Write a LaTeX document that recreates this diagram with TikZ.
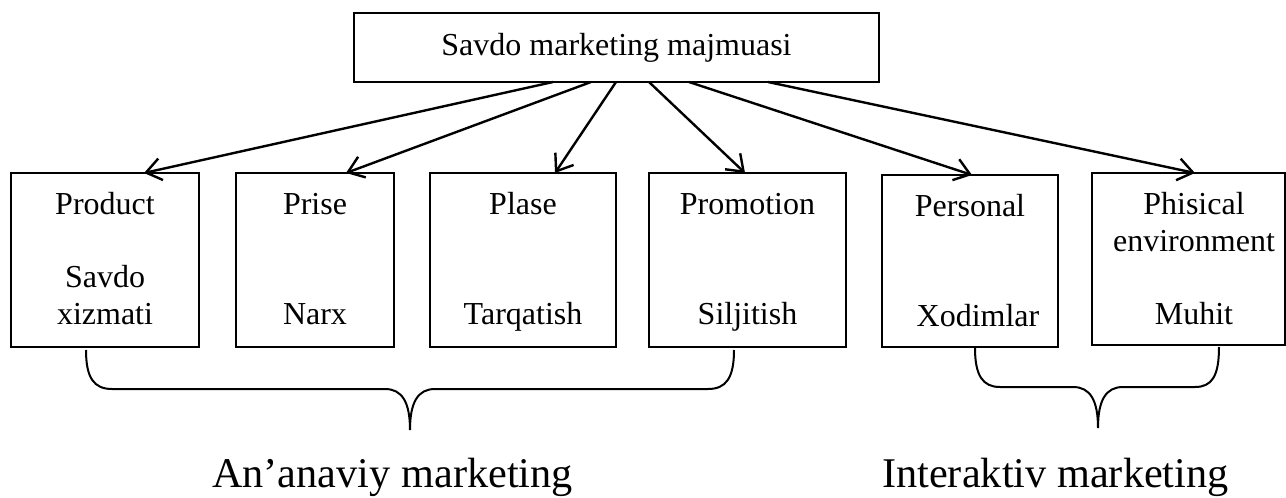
\documentclass[tikz,border=0pt]{standalone}
\usepackage{fontspec}
\setmainfont{Liberation Serif}
\usetikzlibrary{arrows.meta}
\begin{document}
\begin{tikzpicture}[x=1pt,y=-1pt,
  box/.style={draw, line width=1.4pt, inner sep=0pt, outer sep=0pt, anchor=north west},
  txt/.style={font=\fontsize{32}{37}\selectfont, anchor=base, inner sep=0pt},
  big/.style={font=\fontsize{42.3}{48}\selectfont, anchor=base west, inner sep=0pt},
  link/.style={line width=2.4pt, -{Straight Barb[length=15pt,width=22pt]}},
  brace/.style={line width=2pt}
]
\useasboundingbox (0,0) rectangle (1286,498);

% head box
\node[box, minimum width=525pt, minimum height=69pt,
      font=\fontsize{32}{37}\selectfont] (top) at (354,13) {Savdo marketing majmuasi};

% the six element boxes
\node[box, minimum width=188pt, minimum height=174pt] (b1) at (11,173) {};
\node[box, minimum width=158pt, minimum height=174pt] (b2) at (236,173) {};
\node[box, minimum width=186pt, minimum height=174pt] (b3) at (430,173) {};
\node[box, minimum width=197pt, minimum height=174pt] (b4) at (649,173) {};
\node[box, minimum width=176pt, minimum height=172pt] (b5) at (882,175) {};
\node[box, minimum width=193pt, minimum height=172pt] (b6) at (1092,173) {};

% box texts (baselines 41, 78, 115, 151 below the top edge)
\node[txt] (t1a) at ([yshift=-41pt]b1.north) {Product};
\node[txt] (t1b) at ([yshift=-114pt]b1.north) {Savdo};
\node[txt] (t1c) at ([yshift=-151pt]b1.north) {xizmati};
\node[txt] (t2a) at ([yshift=-41pt]b2.north) {Prise};
\node[txt] (t2b) at ([yshift=-151pt]b2.north) {Narx};
\node[txt] (t3a) at ([yshift=-41pt]b3.north) {Plase};
\node[txt] (t3b) at ([yshift=-151pt]b3.north) {Tarqatish};
\node[txt] (t4a) at ([yshift=-41pt]b4.north) {Promotion};
\node[txt] (t4b) at ([yshift=-151pt]b4.north) {Siljitish};
\node[txt] (t5a) at ([yshift=-41pt]b5.north) {Personal};
\node[txt] (t5b) at ([xshift=8pt,yshift=-151pt]b5.north) {Xodimlar};
\node[txt] (t6a) at ([xshift=5.5pt,yshift=-41pt]b6.north) {Phisical};
\node[txt] (t6b) at ([xshift=5.5pt,yshift=-78pt]b6.north) {environment};
\node[txt] (t6c) at ([xshift=5.5pt,yshift=-151pt]b6.north) {Muhit};

% arrows from the head box
\draw[link] ([xshift=199pt]top.south west) -- ([xshift=39pt]b1.north);
\draw[link] ([xshift=237pt]top.south west) -- ([xshift=31pt]b2.north);
\draw[link] ([xshift=262pt]top.south west) -- ([xshift=32pt]b3.north);
\draw[link] ([xshift=295pt]top.south west) -- ([xshift=-2.5pt]b4.north);
\draw[link] ([xshift=335pt]top.south west) -- ([xshift=2pt]b5.north);
\draw[link] ([xshift=414pt]top.south west) -- ([xshift=6.5pt]b6.north);

% braces
\draw[brace] (86,350) .. controls (86,378) and (94,389) .. (112,389)
  -- (385,389) .. controls (402,389) and (410,402) .. (410,430)
  .. controls (410,402) and (418,389) .. (435,389)
  -- (708,389) .. controls (726,389) and (734,378) .. (734,350);
\draw[brace] (975,348) .. controls (975,376) and (983,387) .. (1000,387)
  -- (1073,387) .. controls (1090,387) and (1098,400) .. (1098,428)
  .. controls (1098,400) and (1106,387) .. (1123,387)
  -- (1195,387) .. controls (1212,387) and (1219,376) .. (1219,347);

% group labels
\node[big] (trad) at (212,487) {An’anaviy marketing};
\node[big] (inter) at (882,487) {Interaktiv marketing};
\end{tikzpicture}
\end{document}
